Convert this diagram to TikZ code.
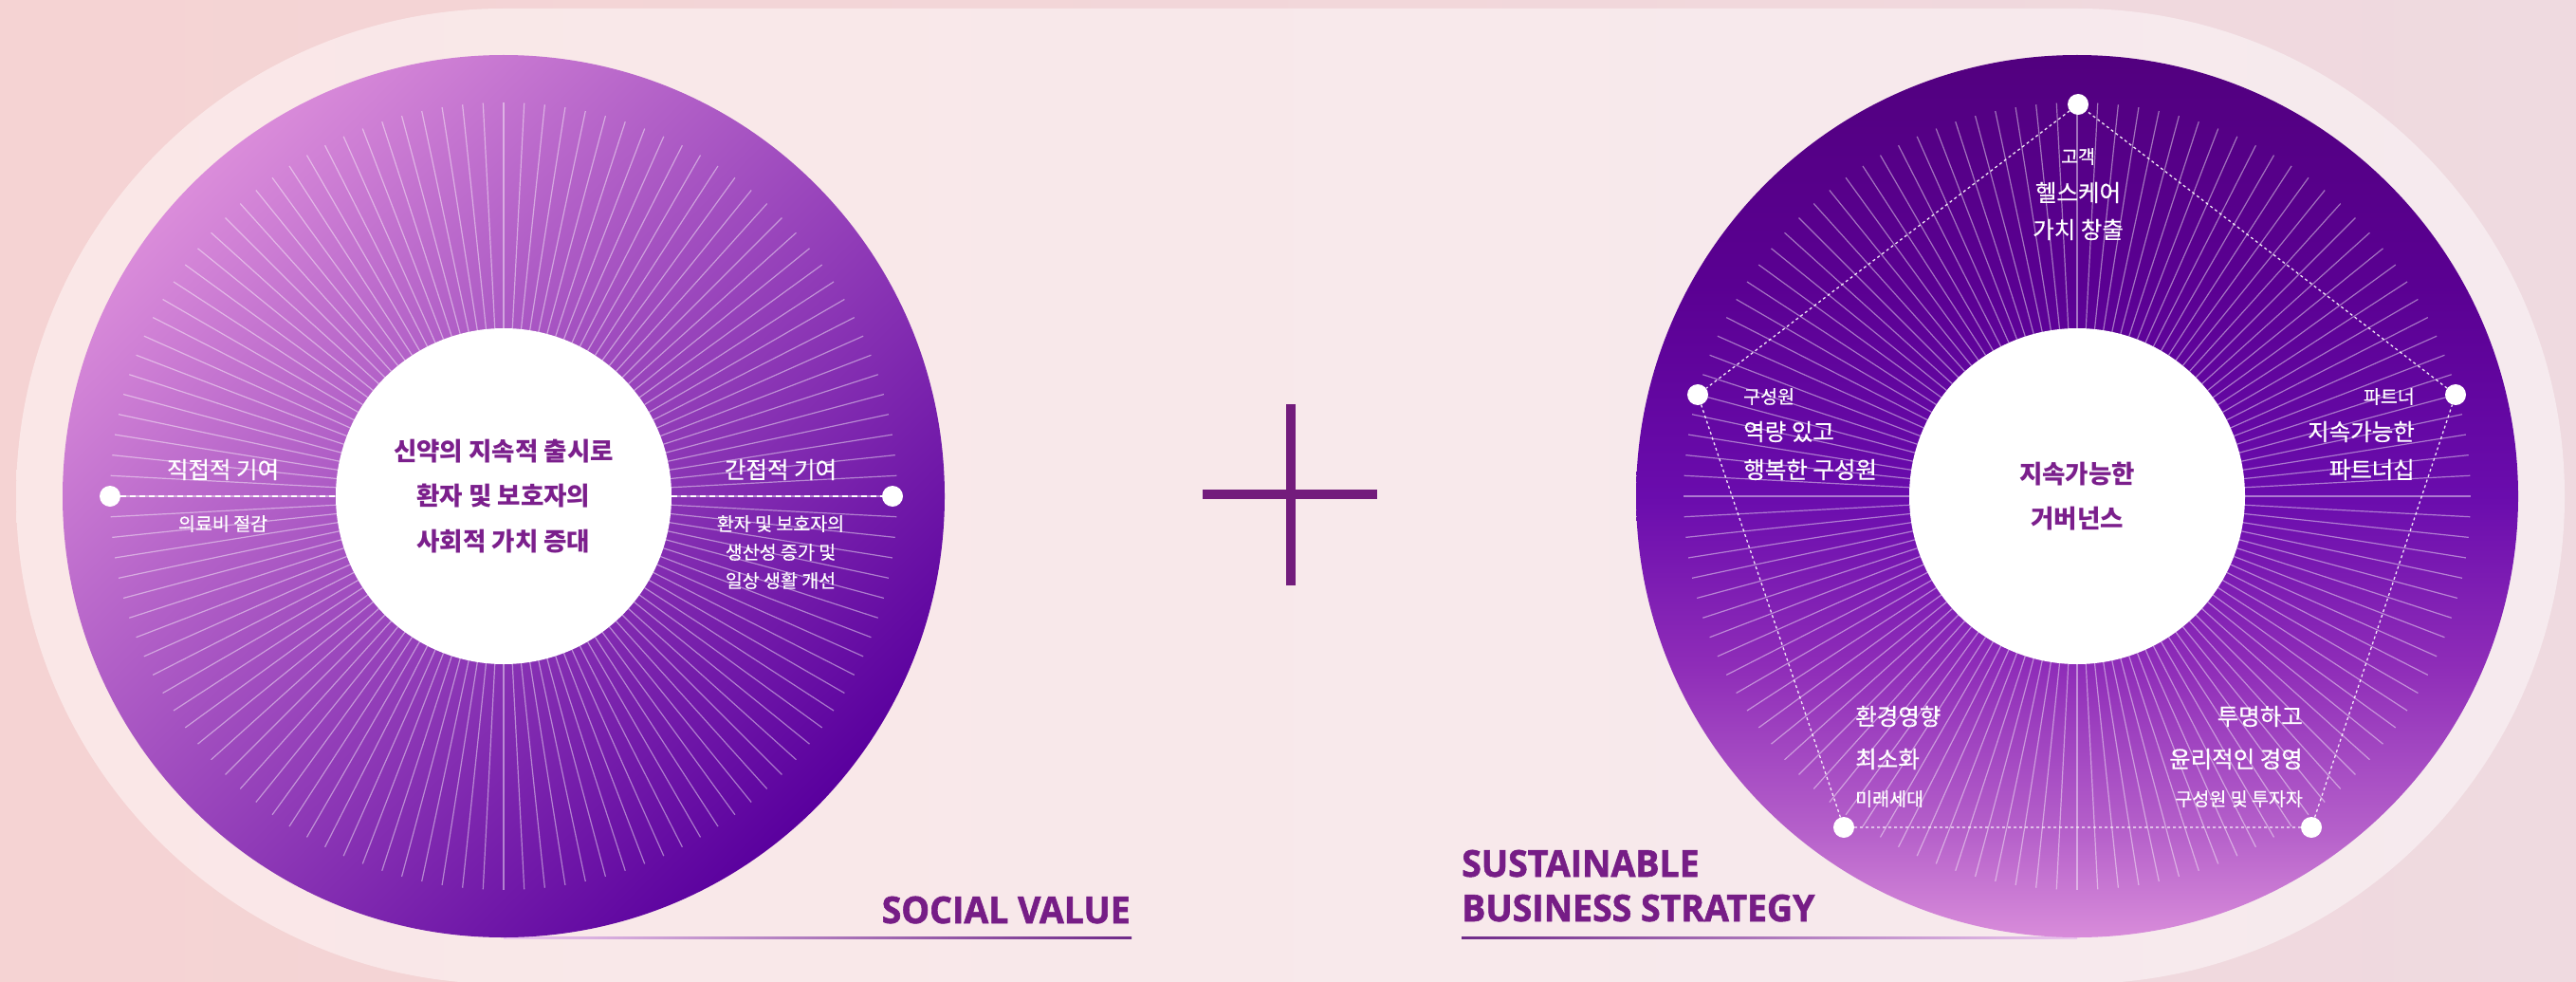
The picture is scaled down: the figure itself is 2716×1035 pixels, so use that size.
\documentclass[tikz,border=0pt]{standalone}
\usepackage{fontspec}
\setmainfont{Noto Sans CJK KR}
\newfontfamily\labelfont[FakeBold=0.5]{Noto Sans CJK KR}
\newfontfamily\headfont[FakeStretch=0.96, FakeBold=1.5]{Open Sans}
\usetikzlibrary{positioning}
\definecolor{bgLeft}{HTML}{F5D3D3}
\definecolor{bgRight}{HTML}{EFDAE0}
\definecolor{padLeft}{HTML}{FAE7E7}
\definecolor{padRight}{HTML}{F6EAEE}
\definecolor{lTop}{HTML}{DA8CDA}
\definecolor{lMid}{HTML}{8624B8}
\definecolor{lBottom}{HTML}{5A009E}
\definecolor{rTop}{HTML}{52007F}
\definecolor{rHigh}{HTML}{5A0092}
\definecolor{rMid}{HTML}{6A0CAD}
\definecolor{rLowMid}{HTML}{8E2CB8}
\definecolor{rLow}{HTML}{B560CA}
\definecolor{rBottom}{HTML}{D88CDA}
\definecolor{hubText}{HTML}{7B1F8C}
\definecolor{headText}{HTML}{761D86}
\definecolor{plusColor}{HTML}{731C7C}
\definecolor{lineDark}{HTML}{6F2A89}
\definecolor{lineViolet}{HTML}{A452D8}
\definecolor{lineSoft}{HTML}{EBC6EE}
\pgfdeclareverticalshading{rightdisc}{100bp}{color(0bp)=(rBottom); color(25bp)=(rBottom);
  color(31bp)=(rLow); color(40.5bp)=(rLowMid); color(50bp)=(rMid); color(62bp)=(rHigh);
  color(75bp)=(rTop); color(100bp)=(rTop)}
\newcommand\hubfont{\bfseries\fontsize{26.5pt}{47.5pt}\selectfont}

\begin{document}
\begin{tikzpicture}[x=1pt, y=-1pt, node distance=30pt,
  every node/.style={inner sep=0pt},
  ldisc/.style={top color=lTop, middle color=lMid, bottom color=lBottom, shading angle=45},
  rdisc/.style={shading=rightdisc},
  ray/.style={white, opacity=.45, line width=1.2pt},
  hub/.style={circle, fill=white, minimum size=354pt, align=center, text=hubText, font=\hubfont},
  pin/.style={circle, fill=white, minimum size=22pt},
  link/.style={white, line width=1.6pt, dash pattern=on 6pt off 4pt},
  trace/.style={white, opacity=.9, line width=1.3pt, dash pattern=on 3pt off 3pt},
  bigtext/.style={text=white, font=\labelfont\fontsize{24.5pt}{30pt}\selectfont},
  smalltext/.style={text=white, align=center, font=\labelfont\fontsize{19.5pt}{30pt}\selectfont},
  headline/.style={text=headText, font=\headfont\bfseries\fontsize{39pt}{47pt}\selectfont},
  cross/.style={plusColor, line width=10pt}]
\useasboundingbox (0,0) rectangle (2716,1035);
\shade[left color=bgLeft, right color=bgRight] (0,0) rectangle (2716,1035);
\shade[left color=padLeft, right color=padRight, rounded corners=514pt] (17,9) rectangle (2704,1037);
\shade[left color=lineSoft, middle color=lineViolet, right color=lineDark] (531,987) rectangle (1193,989.5);
\shade[left color=lineDark, middle color=lineViolet, right color=lineSoft] (1541,987) rectangle (2190,989.5);

\coordinate (lc) at (531,523);
\shade[ldisc] (lc) circle (465);
\foreach \a in {0,3,...,357} \draw[ray] (lc) ++(\a:177) -- ++(\a:238);
\node[hub] (lhub) at (lc) {신약의 지속적 출시로\\환자 및 보호자의\\사회적 가치 증대};
\node[pin] (ldirect) at (116,523) {};
\node[pin] (lindirect) at (941,523) {};
\draw[link] (ldirect) -- (lhub);
\draw[link] (lhub) -- (lindirect);
\node[bigtext] (direct) at (235,495) {직접적 기여};
\node[smalltext, below of=direct, node distance=57pt] (cost) {의료비 절감};
\node[bigtext] (indirect) at (823,495) {간접적 기여};
\node[smalltext, below of=indirect, node distance=87pt] (gain) {환자 및 보호자의\\생산성 증가 및\\일상 생활 개선};

\draw[cross] (1361,426) -- (1361,617);
\draw[cross] (1268,521) -- (1452,521);

\coordinate (rc) at (2190,523);
\shade[rdisc] (rc) circle (465);
\foreach \a in {0,3,...,357} \draw[ray] (rc) ++(\a:177) -- ++(\a:238);
\node[hub] (rhub) at (rc) {지속가능한\\거버넌스};
\node[pin] (rcustomer) at (2191,110) {};
\node[pin] (rstaff) at (1790,416) {};
\node[pin] (rpartner) at (2589,416) {};
\node[pin] (rplanet) at (1944,872) {};
\node[pin] (rethics) at (2437,872) {};
\draw[trace] (rcustomer) -- (rstaff) -- (rplanet) -- (rethics) -- (rpartner) -- (rcustomer);
\node[smalltext] (customer) at (2191,165) {고객};
\node[bigtext, below of=customer, node distance=38pt] (health) {헬스케어};
\node[bigtext, below of=health, node distance=39pt] (create) {가치 창출};
\node[smalltext, anchor=west] (staff) at (1838,418) {구성원};
\node[bigtext, anchor=west] (able) at (1838,455) {역량 있고};
\node[bigtext, anchor=west] (happy) at (1838,495) {행복한 구성원};
\node[smalltext, anchor=east] (partner) at (2546,418) {파트너};
\node[bigtext, anchor=east] (lasting) at (2546,455) {지속가능한};
\node[bigtext, anchor=east] (partnership) at (2546,495) {파트너십};
\node[bigtext, anchor=west] (impact) at (1956,755) {환경영향};
\node[bigtext, anchor=west] (reduce) at (1956,800) {최소화};
\node[smalltext, anchor=west] (future) at (1956,842) {미래세대};
\node[bigtext, anchor=east] (open) at (2428,755) {투명하고};
\node[bigtext, anchor=east] (ethics) at (2428,800) {윤리적인 경영};
\node[smalltext, anchor=east] (investor) at (2428,842) {구성원 및 투자자};

\node[headline, anchor=base east] (social) at (1192,973) {SOCIAL VALUE};
\node[headline, anchor=base west] (sustain) at (1541,924) {SUSTAINABLE};
\node[headline, anchor=base west] (business) at (1541,971) {BUSINESS STRATEGY};
\end{tikzpicture}
\end{document}
